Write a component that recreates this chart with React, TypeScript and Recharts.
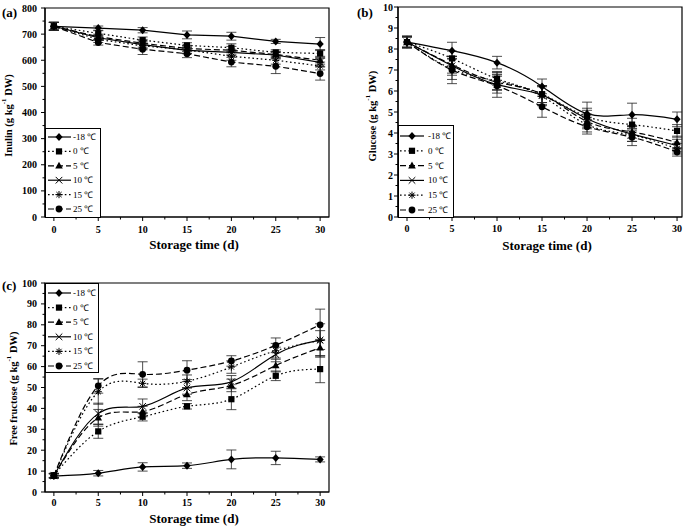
import React from "react";
import { ErrorBar, Label, Legend, Line, LineChart, ReferenceArea, XAxis, YAxis } from "recharts";

// storage days and temperature groups
const DAYS = [0, 5, 10, 15, 20, 25, 30];
const TEMPS = ["-18 ℃", "0 ℃", "5 ℃", "10 ℃", "15 ℃", "25 ℃"];

// (a) inulin, one row per temperature (same order as TEMPS)
const INULIN = [
  [730, 723, 715, 697, 692, 672, 662],
  [730, 703, 677, 657, 648, 630, 626],
  [730, 690, 665, 645, 638, 622, 600],
  [730, 686, 660, 638, 630, 620, 592],
  [730, 680, 655, 640, 615, 600, 578],
  [730, 668, 642, 625, 593, 577, 549],
];
const INULIN_ERR = [
  [15, 8, 10, 15, 15, 8, 25],
  [15, 10, 12, 10, 15, 10, 15],
  [15, 10, 15, 12, 15, 12, 15],
  [15, 10, 15, 12, 12, 12, 15],
  [15, 12, 15, 15, 15, 15, 15],
  [15, 10, 20, 15, 18, 28, 25],
];

// (b) glucose
const GLUCOSE = [
  [8.33, 7.92, 7.35, 6.22, 4.92, 4.87, 4.65],
  [8.33, 7.55, 6.58, 5.85, 4.78, 4.4, 4.1],
  [8.33, 7.25, 6.42, 5.85, 4.55, 4.05, 3.55],
  [8.33, 7.2, 6.3, 5.8, 4.68, 3.95, 3.4],
  [8.33, 7.05, 6.48, 5.75, 4.4, 3.9, 3.25],
  [8.33, 7.0, 6.25, 5.25, 4.3, 3.8, 3.1],
];
const GLUCOSE_ERR = [
  [0.3, 0.4, 0.3, 0.35, 0.55, 0.55, 0.35],
  [0.25, 0.35, 0.3, 0.4, 0.4, 0.3, 0.3],
  [0.25, 0.4, 0.35, 0.4, 0.35, 0.3, 0.3],
  [0.25, 0.45, 0.4, 0.45, 0.4, 0.35, 0.3],
  [0.25, 0.5, 0.45, 0.45, 0.35, 0.3, 0.25],
  [0.25, 0.65, 0.55, 0.5, 0.35, 0.4, 0.2],
];

// (c) free fructose
const FRUCTOSE = [
  [7.6, 9.0, 12.0, 12.6, 15.6, 16.3, 15.6],
  [8.0, 29.0, 36.0, 41.0, 44.4, 55.6, 58.8],
  [7.8, 35.5, 38.5, 46.7, 51.0, 60.5, 69.0],
  [7.8, 37.5, 41.0, 49.8, 52.7, 65.8, 72.7],
  [7.8, 48.0, 52.0, 53.0, 59.8, 67.6, 72.5],
  [7.8, 50.8, 56.3, 58.3, 62.7, 70.2, 80.0],
];
const FRUCTOSE_ERR = [
  [1, 1.3, 2, 1.3, 4.5, 3.2, 1.2],
  [1, 3.3, 2, 1.3, 5, 2.3, 6.5],
  [1, 4, 2.5, 3, 3, 3, 4],
  [1, 5, 3.5, 3, 3, 3.5, 4.5],
  [1, 6, 2, 3, 3, 3.5, 8],
  [1, 3.5, 6, 4.5, 2.5, 3.5, 7.5],
];

const X_TICKS = [0, 2.5, 5, 7.5, 10, 12.5, 15, 17.5, 20, 22.5, 25, 27.5, 30];

const SERIES = [
  { shape: "diamond", dash: undefined },
  { shape: "square", dash: "1.6 2.6" },
  { shape: "triangle", dash: "6 3" },
  { shape: "cross", dash: undefined },
  { shape: "star", dash: "1.6 2.6" },
  { shape: "circle", dash: "6 3" },
];

const FONT = '"Liberation Serif", "Times New Roman", serif';

const steps = (max: number, step: number) => {
  const out: number[] = [];
  for (let i = 0; i * step <= max + 1e-9; i++) out.push(+(i * step).toFixed(3));
  return out;
};

const isMajor = (v: number, step: number) => Math.abs(v / step - Math.round(v / step)) < 1e-6;

function buildRows(means: number[][], errs: number[][]) {
  return DAYS.map((d, i) => {
    const row: Record<string, number> = { day: d };
    means.forEach((s, k) => {
      row[`m${k}`] = s[i];
      row[`e${k}`] = errs[k][i];
    });
    return row;
  });
}

function Marker({ shape, cx, cy }: { shape: string; cx: number; cy: number }) {
  switch (shape) {
    case "diamond":
      return <path d={`M${cx},${cy - 4}L${cx + 3.6},${cy}L${cx},${cy + 4}L${cx - 3.6},${cy}Z`} fill="#000" />;
    case "square":
      return <rect x={cx - 3.1} y={cy - 3.1} width={6.2} height={6.2} fill="#000" />;
    case "triangle":
      return <path d={`M${cx},${cy - 4}L${cx + 3.8},${cy + 2.8}L${cx - 3.8},${cy + 2.8}Z`} fill="#000" />;
    case "cross":
      return (
        <path
          d={`M${cx - 3.3},${cy - 3.3}L${cx + 3.3},${cy + 3.3}M${cx - 3.3},${cy + 3.3}L${cx + 3.3},${cy - 3.3}`}
          stroke="#000"
          strokeWidth={1}
          fill="none"
        />
      );
    case "star":
      return (
        <path
          d={`M${cx - 3.6},${cy}L${cx + 3.6},${cy}M${cx},${cy - 3.6}L${cx},${cy + 3.6}M${cx - 2.6},${cy - 2.6}L${cx + 2.6},${cy + 2.6}M${cx - 2.6},${cy + 2.6}L${cx + 2.6},${cy - 2.6}`}
          stroke="#000"
          strokeWidth={1}
          fill="none"
        />
      );
    default:
      return <circle cx={cx} cy={cy} r={3.4} fill="#000" />;
  }
}

type Box = { w: number; h: number; rowTop: number; rowStep: number; lineX1: number; lineX2: number; markX: number; textX: number };

function LegendBox({ w, h, rowTop, rowStep, lineX1, lineX2, markX, textX }: Box) {
  return (
    <div style={{ width: w, height: h, border: "1px solid #000", background: "#fff", boxSizing: "border-box" }}>
      <svg width={w - 2} height={h - 2} style={{ display: "block" }}>
        {SERIES.map((s, k) => {
          const y = rowTop + k * rowStep - 1;
          return (
            <g key={k}>
              <line x1={lineX1} x2={lineX2} y1={y} y2={y} stroke="#000" strokeWidth={1.2} strokeDasharray={s.dash} />
              <Marker shape={s.shape} cx={markX} cy={y} />
              <text x={textX} y={y} dominantBaseline="central" fontSize={9} fontFamily={FONT} fill="#000">
                {TEMPS[k]}
              </text>
            </g>
          );
        })}
      </svg>
    </div>
  );
}

type PanelProps = {
  letter: string;
  letterX: number;
  letterY: number;
  yTitle: string;
  yTitleX: number;
  yTitleDy: number;
  means: number[][];
  errs: number[][];
  yMax: number;
  yMinor: number;
  yMajor: number;
  xMax: number;
  width: number;
  height: number;
  margin: { top: number; right: number; left: number; bottom: number };
  yAxisWidth: number;
  xAxisHeight: number;
  xLabelDy: number;
  xTitleDy: number;
  yLabelGap: number;
  curve: "linear" | "natural";
  legend: Box & { left: number; top: number };
};

function Panel(p: PanelProps) {
  const rows = buildRows(p.means, p.errs);
  const yTicks = steps(p.yMax, p.yMinor);

  const xTick = (t: any) => {
    const v = t.payload.value;
    const major = isMajor(v, 5);
    return (
      <g>
        <line x1={t.x} y1={t.y} x2={t.x} y2={t.y + (major ? 4 : 2.5)} stroke="#000" />
        {major && (
          <text x={t.x} y={t.y + p.xLabelDy} textAnchor="middle" fontSize={10} fontWeight="bold" fontFamily={FONT} fill="#000">
            {v}
          </text>
        )}
      </g>
    );
  };

  const yTick = (t: any) => {
    const v = t.payload.value;
    const major = isMajor(v, p.yMajor);
    return (
      <g>
        <line x1={t.x} y1={t.y} x2={t.x - (major ? 4 : 2.5)} y2={t.y} stroke="#000" />
        {major && (
          <text x={t.x - p.yLabelGap} y={t.y} textAnchor="end" dominantBaseline="central" fontSize={10} fontWeight="bold" fontFamily={FONT} fill="#000">
            {v}
          </text>
        )}
      </g>
    );
  };

  return (
    <LineChart width={p.width} height={p.height} data={rows} margin={p.margin}>
      <XAxis
        dataKey="day"
        type="number"
        domain={[-1, p.xMax]}
        allowDataOverflow
        ticks={X_TICKS}
        interval={0}
        tickSize={0}
        tickMargin={0}
        tickLine={false}
        tick={xTick}
        height={p.xAxisHeight}
        axisLine={{ stroke: "#000", strokeWidth: 1.2 }}
      >
        <Label
          content={(l: any) => {
            const vb = l.viewBox;
            return (
              <text x={vb.x + vb.width / 2 + 7} y={vb.y + p.xTitleDy} textAnchor="middle" fontSize={13} fontWeight="bold" fontFamily={FONT} fill="#000">
                Storage time (d)
              </text>
            );
          }}
        />
      </XAxis>
      <YAxis
        type="number"
        domain={[0, p.yMax]}
        allowDataOverflow
        ticks={yTicks}
        interval={0}
        tickSize={0}
        tickMargin={0}
        tickLine={false}
        tick={yTick}
        width={p.yAxisWidth}
        axisLine={{ stroke: "#000", strokeWidth: 1.2 }}
      >
        <Label
          content={(l: any) => {
            const vb = l.viewBox;
            const cx = vb.x + p.yTitleX;
            const cy = vb.y + vb.height / 2 + p.yTitleDy;
            return (
              <g>
                <text transform={`translate(${cx},${cy}) rotate(-90)`} textAnchor="middle" dominantBaseline="central" fontSize={10.5} fontWeight="bold" fontFamily={FONT} fill="#000">
                  <tspan>{p.yTitle} (g kg</tspan>
                  <tspan dy={-4} fontSize={7}>-1</tspan>
                  <tspan dy={4}> DW)</tspan>
                </text>
                <text x={p.letterX} y={p.letterY} fontSize={13} fontWeight="bold" fontFamily={FONT} fill="#000">
                  {p.letter}
                </text>
              </g>
            );
          }}
        />
      </YAxis>
      <ReferenceArea x1={-1} x2={p.xMax} y1={0} y2={p.yMax} fill="none" stroke="#000" strokeWidth={1.2} ifOverflow="visible" />
      {SERIES.map((s, k) => (
        <Line
          key={k}
          dataKey={`m${k}`}
          type={p.curve}
          stroke="#000"
          strokeWidth={1.2}
          strokeDasharray={s.dash}
          isAnimationActive={false}
          dot={(d: any) => <Marker key={`d${k}-${d.index}`} shape={s.shape} cx={d.cx} cy={d.cy} />}
          activeDot={false}
        >
          <ErrorBar dataKey={`e${k}`} direction="y" width={5} stroke="#222" strokeWidth={0.8} isAnimationActive={false} />
        </Line>
      ))}
      <Legend
        layout="vertical"
        align="center"
        verticalAlign="middle"
        wrapperStyle={{ left: p.legend.left, top: p.legend.top, width: p.legend.w, height: p.legend.h }}
        content={() => <LegendBox {...p.legend} />}
      />
    </LineChart>
  );
}

export default function App() {
  return (
    <div style={{ position: "absolute", left: 0, top: 0, width: 685, height: 528, background: "#fff", fontFamily: FONT }}>
      <div style={{ position: "absolute", left: 0, top: 0 }}>
        <Panel
          letter="(a)"
          letterX={2}
          letterY={17}
          yTitle="Inulin"
          yTitleX={8}
          yTitleDy={3}
          means={INULIN}
          errs={INULIN_ERR}
          yMax={800}
          yMinor={50}
          yMajor={100}
          xMax={31}
          width={340}
          height={260}
          margin={{ top: 8, right: 11, left: 0, bottom: 0 }}
          yAxisWidth={45}
          xAxisHeight={43}
          xLabelDy={15.5}
          xTitleDy={32}
          yLabelGap={8}
          curve="linear"
          legend={{ left: 45, top: 128, w: 56, h: 90, rowTop: 9, rowStep: 14.4, lineX1: 2, lineX2: 25, markX: 13, textX: 27 }}
        />
      </div>
      <div style={{ position: "absolute", left: 340, top: 0 }}>
        <Panel
          letter="(b)"
          letterX={17}
          letterY={17}
          yTitle="Glucose"
          yTitleX={32}
          yTitleDy={4}
          means={GLUCOSE}
          errs={GLUCOSE_ERR}
          yMax={10}
          yMinor={0.5}
          yMajor={1}
          xMax={30.55}
          width={345}
          height={260}
          margin={{ top: 7, right: 3, left: 0, bottom: 0 }}
          yAxisWidth={58}
          xAxisHeight={43}
          xLabelDy={15}
          xTitleDy={33}
          yLabelGap={5}
          curve="natural"
          legend={{ left: 58, top: 125, w: 56, h: 93, rowTop: 11, rowStep: 14.8, lineX1: 1, lineX2: 25, markX: 13, textX: 29 }}
        />
      </div>
      <div style={{ position: "absolute", left: 0, top: 260 }}>
        <Panel
          letter="(c)"
          letterX={2}
          letterY={30}
          yTitle="Free fructose"
          yTitleX={13}
          yTitleDy={1}
          means={FRUCTOSE}
          errs={FRUCTOSE_ERR}
          yMax={100}
          yMinor={5}
          yMajor={10}
          xMax={31}
          width={340}
          height={268}
          margin={{ top: 23, right: 11, left: 0, bottom: 0 }}
          yAxisWidth={45}
          xAxisHeight={36}
          xLabelDy={14}
          xTitleDy={31}
          yLabelGap={8}
          curve="natural"
          legend={{ left: 45, top: 23, w: 54, h: 90, rowTop: 10, rowStep: 14.6, lineX1: 2, lineX2: 25, markX: 13, textX: 27 }}
        />
      </div>
    </div>
  );
}
